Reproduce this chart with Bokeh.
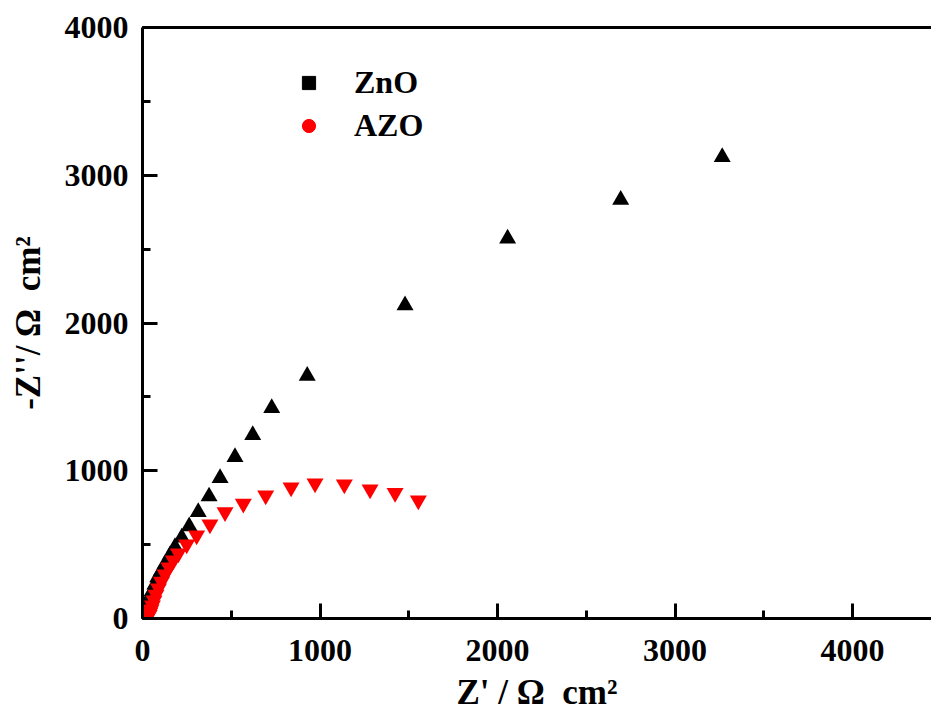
from bokeh.plotting import figure
from bokeh.models import (Range1d, SingleIntervalTicker, LinearAxis, FixedTicker,
                          Legend, LegendItem)
from bokeh.embed import file_html
from bokeh.resources import INLINE

# ---- data ----
zno_x = [3266, 2694, 2057, 1479, 928, 728, 621, 521, 437, 375, 314, 263, 221,
         183, 155, 127, 104, 86, 70, 54, 39, 25, 14, 6, 1]
zno_y = [3123, 2833, 2571, 2119, 1643, 1424, 1242, 1092, 950, 826, 720, 624, 548,
         484, 427, 369, 318, 278, 230, 183, 142, 102, 68, 41, 20]

azo_x = [1554, 1423, 1282, 1137, 972, 837, 694, 568, 465, 380, 305, 249, 202,
         174, 149, 127, 107, 90, 76, 65, 56, 48, 42, 37, 31]
azo_y = [799, 850, 873, 907, 914, 887, 833, 777, 720, 636, 562, 501, 440,
         393, 345, 298, 250, 203, 162, 122, 88, 61, 41, 24, 14]

series_names = ["ZnO", "AZO"]
x_label = "Z' / \u03a9 \u00a0cm\u00b2"
y_label = "-Z''/ \u03a9 \u00a0cm\u00b2"

FONT = "Liberation Serif"

p = figure(width=931, height=715, output_backend="svg", toolbar_location=None,
           x_range=Range1d(0, 4445), y_range=Range1d(0, 4000),
           min_border_left=142, min_border_right=0, min_border_top=27,
           min_border_bottom=97, x_axis_label=x_label, y_axis_label=y_label)
p.grid.visible = False
p.outline_line_color = None
p.background_fill_color = "white"
p.border_fill_color = "white"

p.xaxis.ticker = SingleIntervalTicker(interval=1000, num_minor_ticks=2)
p.yaxis.ticker = SingleIntervalTicker(interval=1000, num_minor_ticks=2)

for ax in (p.xaxis[0], p.yaxis[0]):
    ax.axis_line_width = 3
    ax.axis_line_color = "black"
    ax.major_tick_in = 15
    ax.major_tick_out = 0
    ax.minor_tick_in = 8
    ax.minor_tick_out = 0
    ax.major_tick_line_width = 3
    ax.minor_tick_line_width = 3
    ax.major_label_text_font = FONT
    ax.major_label_text_font_style = "bold"
    ax.major_label_text_font_size = "32px"
    ax.major_label_text_color = "black"
    ax.axis_label_text_font = FONT
    ax.axis_label_text_font_style = "bold"
    ax.axis_label_text_font_size = "35px"
    ax.axis_label_text_color = "black"

p.xaxis.major_label_standoff = 21
p.xaxis.axis_label_standoff = 9
p.yaxis.major_label_standoff = 14
p.yaxis.axis_label_standoff = 14

top = LinearAxis(ticker=FixedTicker(ticks=[]), axis_line_width=3,
                 major_tick_in=0, major_tick_out=0, minor_tick_in=0, minor_tick_out=0,
                 major_label_text_font_size="0px")
p.add_layout(top, "above")

p.scatter(zno_x, zno_y, marker="triangle", size=17, fill_color="black",
          line_color="black", line_width=0)
p.scatter(azo_x, azo_y, marker="inverted_triangle", size=17, fill_color="red",
          line_color="red", line_width=0)

# legend (the reference uses square / circle symbols in its key)
nan = float("nan")
r_sq = p.scatter(x=[nan], y=[nan], marker="square", fill_color="black",
                 line_color="black")
r_ci = p.scatter(x=[nan], y=[nan], marker="circle", fill_color="red",
                 line_color="red")
legend = Legend(items=[LegendItem(label=series_names[0], renderers=[r_sq]),
                       LegendItem(label=series_names[1], renderers=[r_ci])],
                location=(150, 471), orientation="vertical",
                glyph_width=33, glyph_height=43, label_height=43, spacing=0,
                padding=0, margin=0, label_standoff=29,
                label_text_font=FONT, label_text_font_style="bold",
                label_text_font_size="32px", label_text_color="black",
                border_line_color=None, background_fill_alpha=0)
p.add_layout(legend, "center")

open("out.html", "w").write(file_html(p, INLINE))
